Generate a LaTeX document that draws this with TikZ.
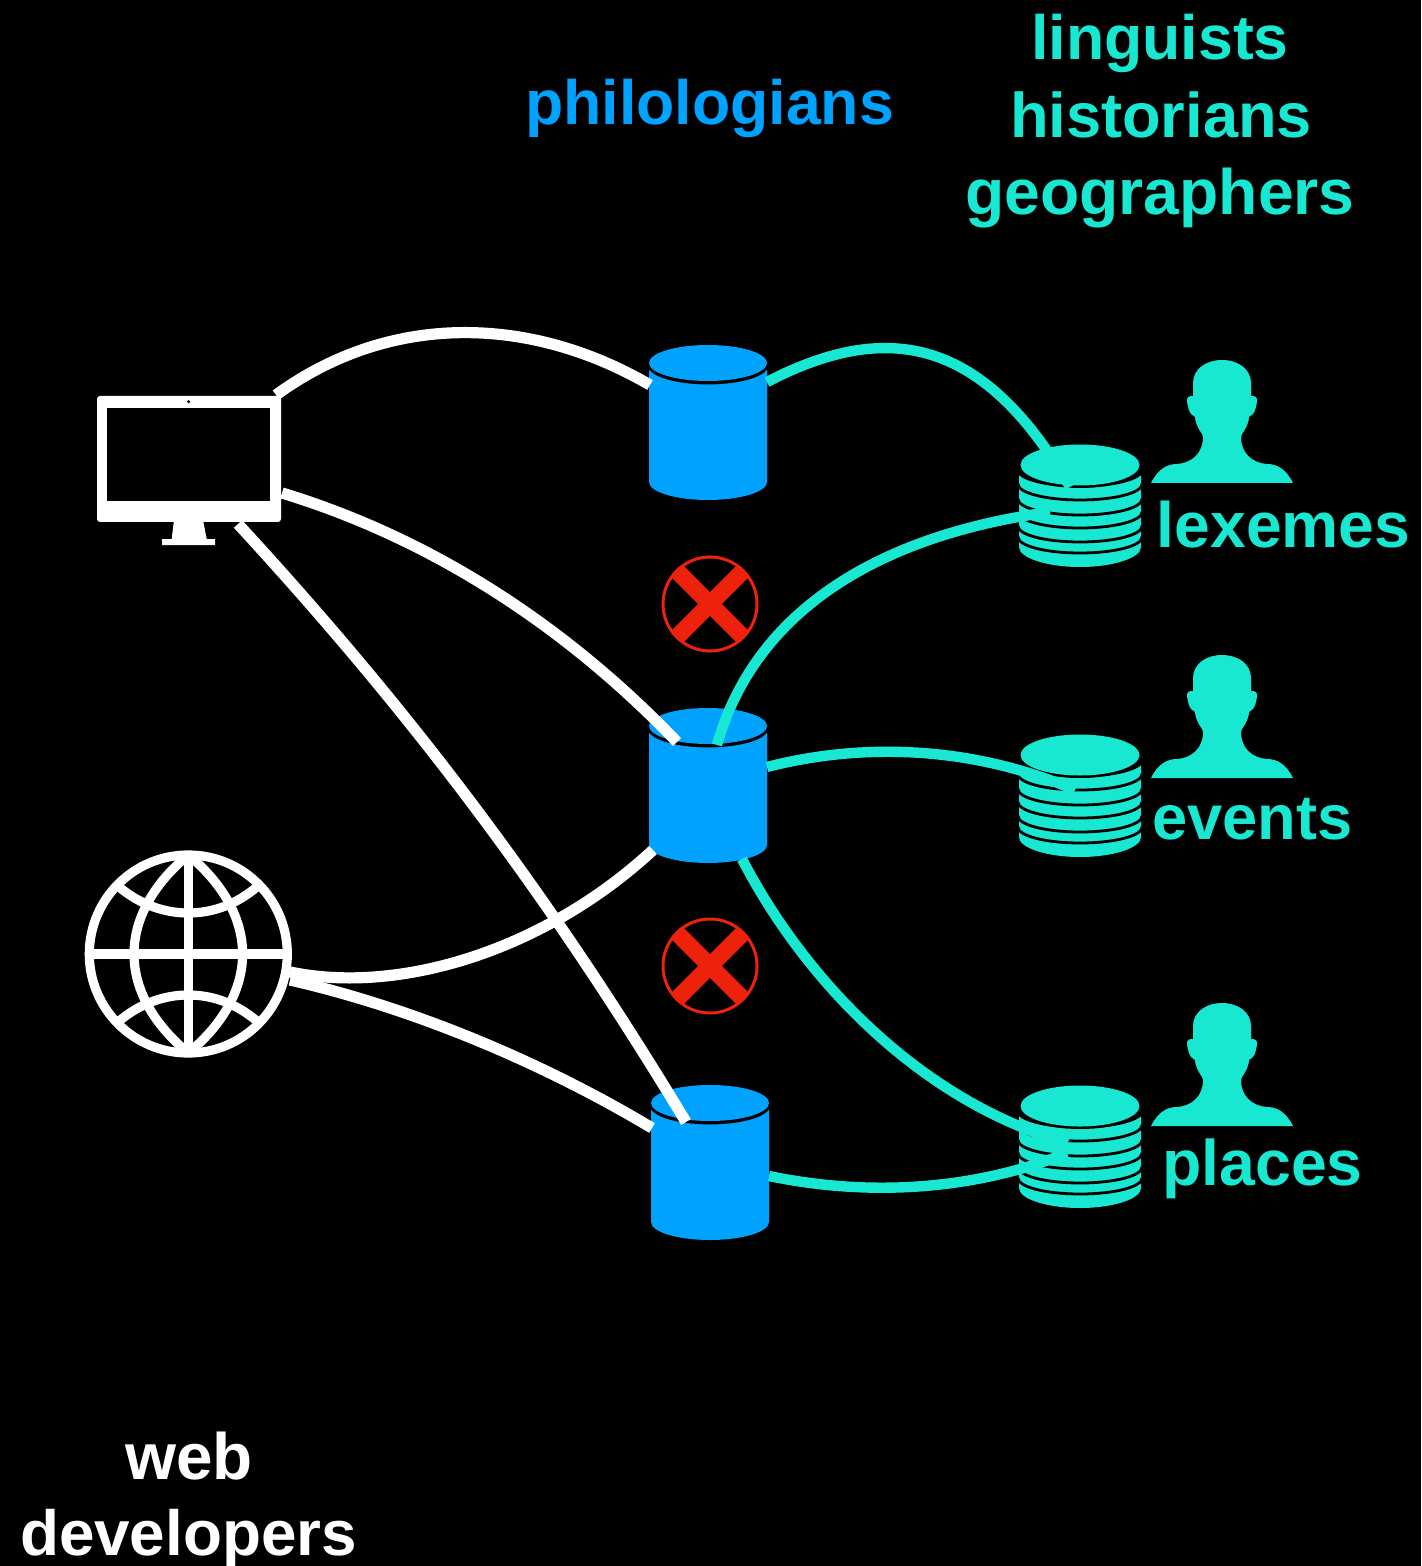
\documentclass[tikz,border=0pt]{standalone}
\usepackage{fontspec}
\setmainfont{Liberation Sans}
\definecolor{dbblue}{HTML}{00A2FF}
\definecolor{teal2}{HTML}{18E8D2}
\definecolor{xred}{HTML}{EE220C}
\tikzset{
  whitelink/.style={draw=white,line width=5.6pt,line cap=butt},
  teallink/.style={draw=teal2,line width=5.2pt,line cap=butt},
  lab/.style={font=\bfseries\fontsize{#1}{39}\selectfont,anchor=base,inner sep=0pt},
  dbcyl/.pic={% origin: centre of top ellipse
    \fill[dbblue] (-59,6) -- (-59,118) .. controls (-59,128) and (-32,136) .. (0,136)
       .. controls (32,136) and (59,128) .. (59,118) -- (59,6) -- cycle;
    \fill[black] (0,1.8) ellipse [x radius=60,y radius=18.6];
    \fill[dbblue] (0,-1) ellipse [x radius=59,y radius=18];
  },
  stack/.pic={% origin: centre of top ellipse
    \fill[teal2] (-61,6) -- (-61,82) .. controls (-61,93) and (-33,102) .. (0,102)
       .. controls (33,102) and (61,93) .. (61,82) -- (61,6) -- cycle;
    \foreach \m in {21,35,50,63,77,88}{
      \draw[black,line width=1.4pt] (-62,\m-16) .. controls (-62,\m-7) and (-34,\m) .. (0,\m)
        .. controls (34,\m) and (62,\m-7) .. (62,\m-16);
    }
    \fill[black] (0,2) ellipse [x radius=62,y radius=21];
    \fill[teal2] (0,0) ellipse [x radius=59.5,y radius=20.5];
  },
  person/.pic={% origin: centre of base line
    \fill[teal2] (-71,0) .. controls (-64,-14) and (-55,-19) .. (-45,-19)
      .. controls (-30,-20) and (-19,-30) .. (-19,-46) -- (-20,-49)
      .. controls (-25,-56) and (-27,-62) .. (-27,-66)
      .. controls (-33,-68) and (-35,-78) .. (-35,-84)
      .. controls (-35,-86) and (-33,-87) .. (-29,-87) -- (-29,-100)
      .. controls (-29,-114) and (-16,-123) .. (0,-123)
      .. controls (16,-123) and (29,-114) .. (29,-100) -- (29,-87)
      .. controls (33,-87) and (35,-86) .. (35,-84)
      .. controls (35,-78) and (33,-68) .. (27,-66)
      .. controls (27,-62) and (25,-56) .. (20,-49) -- (19,-46)
      .. controls (19,-30) and (30,-20) .. (45,-19)
      .. controls (55,-19) and (64,-14) .. (71,0) -- cycle;
  },
  nope/.pic={
    \begin{scope}
      \clip (0,0) circle [radius=47];
      \draw[xred,line width=8.4pt] (-40,-40) -- (40,40) (-40,40) -- (40,-40);
    \end{scope}
    \draw[xred,line width=1.5pt] (0,0) circle [radius=47];
  }
}
\begin{document}
\begin{tikzpicture}[x=0.5pt,y=-0.5pt]
  \fill[black] (0,0) rectangle (1421,1566);
  \useasboundingbox (0,0) rectangle (1421,1566);

  % monitor
  \fill[white,rounded corners=1.5pt] (97,396) rectangle (281,522);
  \fill[black] (107,408) rectangle (270,501);
  \fill[black] (188.7,401.7) circle [radius=1.7];
  \fill[white] (174,520) -- (203,520) -- (206.7,539) -- (215,539) -- (215,545) -- (162,545) -- (162,539) -- (171.7,539) -- cycle;

  % globe
  \begin{scope}[draw=white,line width=4.6pt]
    \draw (188.3,954) circle [radius=99];
    \draw (188.3,855) -- (188.3,1053) (89,954) -- (287.6,954);
    \draw (188.3,855) .. controls (152,885) and (134,920) .. (134,954)
       .. controls (134,988) and (152,1023) .. (188.3,1053);
    \draw (188.3,855) .. controls (224.6,885) and (242.6,920) .. (242.6,954)
       .. controls (242.6,988) and (224.6,1023) .. (188.3,1053);
    \draw (118,886) .. controls (140,905) and (165,913) .. (188.3,913)
       .. controls (212,913) and (236,905) .. (258,886);
    \draw (118,1022) .. controls (140,1003) and (165,995) .. (188.3,995)
       .. controls (212,995) and (236,1003) .. (258,1022);
  \end{scope}

  % databases
  \pic at (708,364) {dbcyl};
  \pic at (708,727) {dbcyl};
  \pic at (710,1104) {dbcyl};

  % stacks
  \pic at (1080,465) {stack};
  \pic at (1080,755) {stack};
  \pic at (1080,1106) {stack};

  % people
  \pic at (1222,483) {person};
  \pic at (1222,778) {person};
  \pic at (1222,1126) {person};

  % refused links
  \pic at (710,604) {nope};
  \pic at (710,966) {nope};

  % link ends
  \coordinate (monA) at (276,395);
  \coordinate (monB) at (282,493);
  \coordinate (monC) at (238,524);
  \coordinate (gloA) at (290,972);
  \coordinate (gloB) at (290,980);
  \coordinate (dbAw) at (650,385);
  \coordinate (dbBtop) at (677,742);
  \coordinate (dbBsw) at (653,850);
  \coordinate (dbCtop) at (686,1122);
  \coordinate (dbCw) at (652,1128);
  \coordinate (dbAe) at (767,382);
  \coordinate (dbBn) at (717,745);
  \coordinate (dbBe) at (767,767);
  \coordinate (dbBs) at (742,859);
  \coordinate (dbCe) at (769,1176);
  \coordinate (lexA) at (1070,487);
  \coordinate (lexB) at (1050,512);
  \coordinate (evtA) at (1075,790);
  \coordinate (plaA) at (1068,1143);
  \coordinate (plaB) at (1067,1153);

  % white links
  \draw[whitelink] (gloA) .. controls (400,995) and (545,950) .. (dbBsw);
  \draw[whitelink] (gloB) .. controls (400,1005) and (530,1055) .. (dbCw);
  \draw[whitelink] (monA) .. controls (390,312) and (530,315) .. (dbAw);
  \draw[whitelink] (monB) .. controls (430,538) and (565,625) .. (dbBtop);
  \draw[whitelink] (monC) .. controls (400,700) and (540,880) .. (dbCtop);

  % teal links
  \draw[teallink] (dbAe) .. controls (890,318) and (985,340) .. (lexA);
  \draw[teallink] (dbBn) .. controls (755,610) and (880,535) .. (lexB);
  \draw[teallink] (dbBe) .. controls (860,743) and (970,745) .. (evtA);
  \draw[teallink] (dbBs) .. controls (810,990) and (930,1105) .. (plaA);
  \draw[teallink] (dbCe) .. controls (870,1197) and (975,1190) .. (plaB);

  % labels
  \node[lab=31.3,text=dbblue] (philo) at (709.5,125) {philologians};
  \node[lab=31.3,text=teal2] (ling) at (1160,60) {linguists};
  \node[lab=31.6,text=teal2] (hist) at (1161,138) {historians};
  \node[lab=32.1,text=teal2] (geog) at (1160,215) {geographers};
  \node[lab=32.1,text=teal2] (lexl) at (1283.5,547) {lexemes};
  \node[lab=31.6,text=teal2] (evtl) at (1252.5,839) {events};
  \node[lab=32.2,text=teal2] (plal) at (1262.5,1185) {places};
  \node[lab=32.8,text=white] (web) at (189,1479) {web};
  \node[lab=31.9,text=white] (devs) at (188.5,1555) {developers};
\end{tikzpicture}
\end{document}
